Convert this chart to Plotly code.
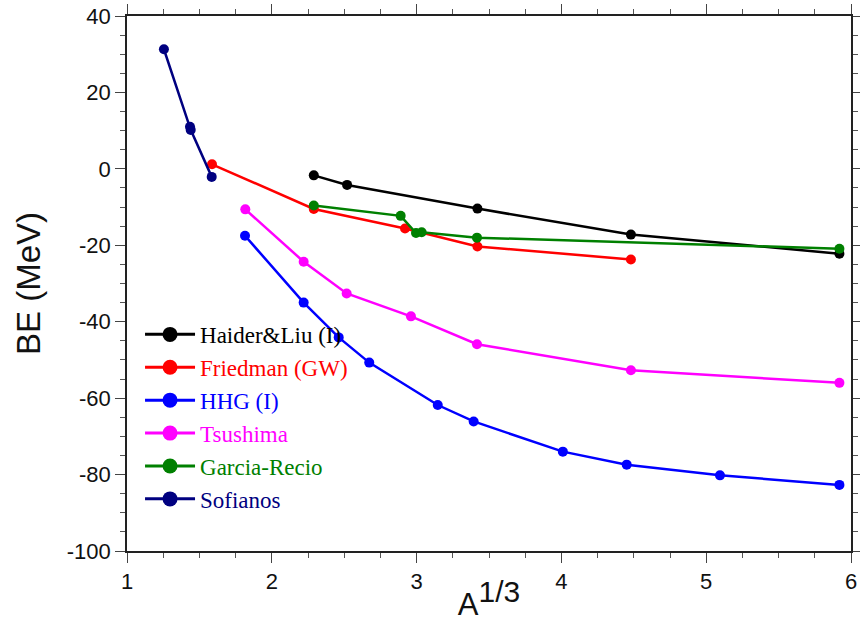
import plotly.graph_objects as go

# Binding energy vs A^(1/3) for several model calculations
haider_x = [2.29, 2.52, 3.42, 4.48, 5.92]
haider_y = [-1.7, -4.2, -10.4, -17.2, -22.2]

friedman_x = [1.587, 2.29, 2.92, 3.42, 4.48]
friedman_y = [1.2, -10.5, -15.6, -20.3, -23.7]

hhg_x = [1.815, 2.22, 2.462, 2.673, 3.146, 3.394, 4.01, 4.451, 5.095, 5.92]
hhg_y = [-17.5, -35.0, -44.1, -50.7, -61.8, -66.1, -74.0, -77.4, -80.2, -82.7]

tsushima_x = [1.817, 2.22, 2.517, 2.961, 3.417, 4.48, 5.92]
tsushima_y = [-10.6, -24.3, -32.6, -38.6, -45.9, -52.7, -56.0]

garcia_x = [2.29, 2.89, 2.996, 3.035, 3.417, 5.92]
garcia_y = [-9.6, -12.3, -16.8, -16.6, -18.0, -20.9]

sofianos_x = [1.255, 1.435, 1.44, 1.585]
sofianos_y = [31.3, 11.0, 10.2, -2.1]

series = [
    ("Haider&Liu (I)", haider_x, haider_y, "#000000"),
    ("Friedman (GW)", friedman_x, friedman_y, "#ff0000"),
    ("HHG (I)", hhg_x, hhg_y, "#0000ff"),
    ("Tsushima", tsushima_x, tsushima_y, "#ff00ff"),
    ("Garcia-Recio", garcia_x, garcia_y, "#008000"),
    ("Sofianos", sofianos_x, sofianos_y, "#000080"),
]

x_ticks = [1, 2, 3, 4, 5, 6]
y_ticks = [-100, -80, -60, -40, -20, 0, 20, 40]

fig = go.Figure()

# data curves
for name, xs, ys, col in series:
    fig.add_trace(go.Scatter(
        x=xs, y=ys, mode="lines+markers", showlegend=False,
        line=dict(color=col, width=2.5),
        marker=dict(color=col, size=10),
        name=name,
    ))

# legend entries with larger symbols and coloured labels
for i, (name, xs, ys, col) in enumerate(series):
    fig.add_trace(go.Scatter(
        x=[None], y=[None], mode="lines+markers",
        line=dict(color=col, width=3),
        marker=dict(color=col, size=15),
        name=f"<span style='color:{col}'>{name}</span>",
        legendgroup=f"g{i}",
    ))

sans = "Liberation Sans, Arial"
axis_common = dict(
    showgrid=False, zeroline=False, showline=True, linecolor="#222222", linewidth=1.5,
    mirror="allticks", ticks="outside", ticklen=10, tickwidth=1.2, tickcolor="#444444",
    tickfont=dict(family=sans, size=22, color="#111111"), automargin=False,
)

fig.update_layout(
    width=860, height=624,
    margin=dict(l=127, r=9, t=16, b=73),
    plot_bgcolor="white", paper_bgcolor="white",
    xaxis=dict(
        range=[1, 6], tickvals=x_ticks, ticktext=[str(v) for v in x_ticks],
        minor=dict(ticks="outside", ticklen=5, dtick=0.25, tickcolor="#555555", tickwidth=1),
        title=dict(text="A<sup><span style='font-size:30px'>1/3</span></sup>",
                   font=dict(family=sans, size=31, color="#111111"), standoff=0),
        **axis_common,
    ),
    yaxis=dict(
        range=[-100, 40], tickvals=y_ticks, ticktext=[str(v) for v in y_ticks],
        minor=dict(ticks="outside", ticklen=5, dtick=5, tickcolor="#555555", tickwidth=1),
        title=dict(text="BE (MeV)", font=dict(family=sans, size=33, color="#111111"),
                   standoff=16),
        **axis_common,
    ),
    legend=dict(
        x=0.018, y=0.445, xanchor="left", yanchor="top",
        bgcolor="rgba(0,0,0,0)",
        font=dict(family="Liberation Serif, Times New Roman", size=23),
        tracegroupgap=0, itemwidth=50,
    ),
)

fig.write_html("out.html")
